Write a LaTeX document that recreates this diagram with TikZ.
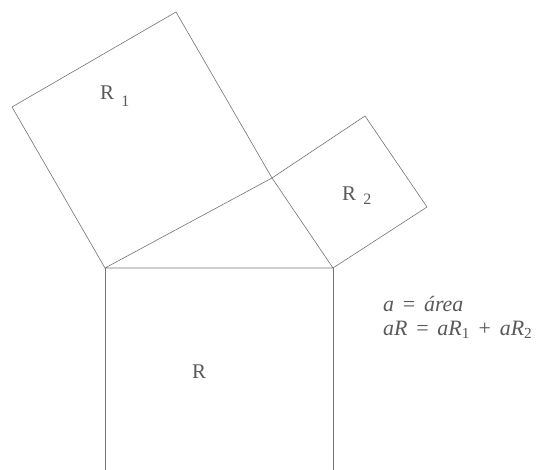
\documentclass[tikz,border=0pt]{standalone}
\usepackage{fontspec}
\setmainfont{Liberation Serif}
\newcommand{\gap}{\hspace{0.4em}}
\begin{document}
\begin{tikzpicture}[x=1bp,y=-1bp,
  edge/.style={draw=black!55,line width=0.6bp,line join=round},
  lbl/.style={text=black!65,font=\fontsize{21}{25}\selectfont,inner sep=0pt,anchor=base west},
  formula/.style={text=black!65,font=\fontsize{22}{26}\selectfont,inner sep=0pt,anchor=base west}]
\useasboundingbox (0,0) rectangle (542,470);
% vertices
\coordinate (A) at (105,268);
\coordinate (B) at (333,268);
\coordinate (C) at (272,178);
\coordinate (P1) at (12,107);
\coordinate (P2) at (176,12);
\coordinate (Q1) at (365,116);
\coordinate (Q2) at (427,207);
\coordinate (Abot) at (105,470);
\coordinate (Bbot) at (333,470);
% triangle and squares
\draw[edge] (A) -- (B) -- (C) -- cycle;
\draw[edge] (A) -- (P1) -- (P2) -- (C);
\draw[edge] (C) -- (Q1) -- (Q2) -- (B);
\draw[edge] (A) -- (Abot);
\draw[edge] (B) -- (Bbot);
% labels
\node[lbl] (r1) at (100,100) {R\hspace{0.35em}\raisebox{-0.33em}{\fontsize{16}{18}\selectfont 1}};
\node[lbl] (r2) at (342,201) {R\hspace{0.35em}\raisebox{-0.17em}{\fontsize{16}{18}\selectfont 2}};
\node[lbl] (r) at (192,378) {R};
\node[formula] (f1) at (383,311) {\textit{a}\gap=\gap\textit{área}};
\node[formula] (f2) at (383,335) {\textit{aR}\gap=\gap\textit{aR}\textsubscript{1}\gap+\gap\textit{aR}\textsubscript{2}};
\end{tikzpicture}
\end{document}
